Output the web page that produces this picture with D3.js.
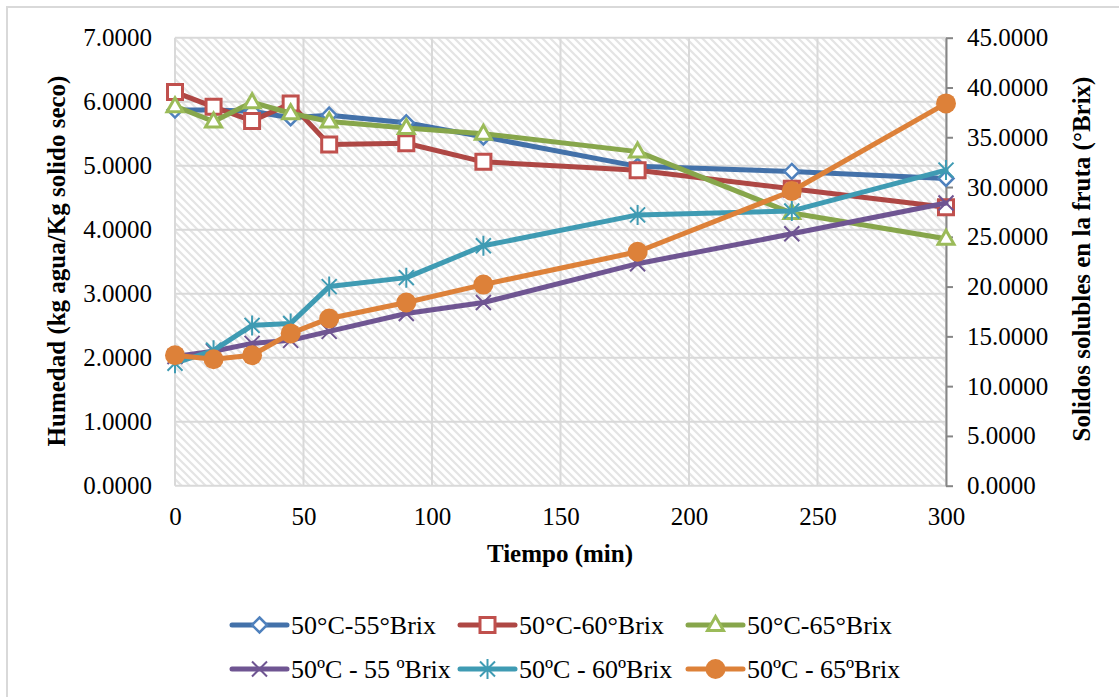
<!DOCTYPE html>
<html>
<head>
<meta charset="utf-8">
<script src="https://cdn.jsdelivr.net/npm/d3@7"></script>
<style>
  body { margin: 0; background: #fff; }
  text { font-family: "Liberation Serif", "Times New Roman", serif; fill: #000; }
</style>
</head>
<body>
<div id="svg_container"></div>
<script>
// Data ---------------------------------------------------------------------------------
var tiempo = [0, 15, 30, 45, 60, 90, 120, 180, 240, 300];
var hum55 = [5.87, 5.87, 5.85, 5.75, 5.79, 5.67, 5.45, 4.99, 4.91, 4.80];
var hum60 = [6.15, 5.92, 5.70, 5.97, 5.33, 5.35, 5.06, 4.93, 4.64, 4.35];
var hum65 = [5.93, 5.69, 5.99, 5.82, 5.69, 5.59, 5.50, 5.22, 4.26, 3.86];
var ss55 = [12.97, 13.5, 14.3, 14.6, 15.5, 17.3, 18.4, 22.3, 25.3, 28.4];
var ss60 = [12.3, 13.6, 16.1, 16.3, 20.0, 20.9, 24.1, 27.2, 27.6, 31.7];
var ss65 = [13.1, 12.7, 13.1, 15.3, 16.8, 18.4, 20.2, 23.5, 29.6, 38.4];
var xTicks = [0, 50, 100, 150, 200, 250, 300];
var yLeftTicks = [0, 1, 2, 3, 4, 5, 6, 7];
var yRightTicks = [0, 5, 10, 15, 20, 25, 30, 35, 40, 45];
var names = ["50°C-55°Brix", "50°C-60°Brix", "50°C-65°Brix",
             "50ºC - 55 ºBrix", "50ºC - 60ºBrix", "50ºC - 65ºBrix"];

// Marker shapes ------------------------------------------------------------------------
var shapes = {
  diamond: "M0,-7.5L7.5,0L0,7.5L-7.5,0Z",
  square: "M-7.5,-7.5H7.5V7.5H-7.5Z",
  triangle: "M0,-8.5L8,5.5H-8Z",
  x: "M-7.5,-7.5L7.5,7.5M-7.5,7.5L7.5,-7.5",
  star: "M-7.5,-7.5L7.5,7.5M-7.5,7.5L7.5,-7.5M0,-10V10",
  circle: null
};

var series = [
  {name: names[0], values: hum55, axis: "left", line: "#4371A9", mark: "#4F81BD", shape: "diamond", fill: "#fff", sw: 2.5},
  {name: names[1], values: hum60, axis: "left", line: "#AE4744", mark: "#C0504D", shape: "square", fill: "#fff", sw: 3},
  {name: names[2], values: hum65, axis: "left", line: "#87A64B", mark: "#9BBB59", shape: "triangle", fill: "#fff", sw: 3},
  {name: names[3], values: ss55, axis: "right", line: "#6F5592", mark: "#6F5592", shape: "x", fill: "none", sw: 2},
  {name: names[4], values: ss60, axis: "right", line: "#3F9BB3", mark: "#3F9BB3", shape: "star", fill: "none", sw: 2},
  {name: names[5], values: ss65, axis: "right", line: "#DD8139", mark: "#DD8139", shape: "circle", fill: "#DD8139", sw: 0}
];

var width = 1119, height = 697;
var svg = d3.select("#svg_container").append("svg")
  .attr("width", width)
  .attr("height", height);

// hatch for plot area
var defs = svg.append("defs");
var pat = defs.append("pattern")
  .attr("id", "hatch")
  .attr("patternUnits", "userSpaceOnUse")
  .attr("width", 8).attr("height", 8);
pat.append("rect").attr("width", 8).attr("height", 8).attr("fill", "#fff");
pat.append("path")
  .attr("d", "M0,0L8,8M-4,4L4,12M4,-4L12,4")
  .attr("stroke", "#E4E4E4")
  .attr("stroke-width", 2.2);

// outer chart border
svg.append("rect")
  .attr("x", 7).attr("y", 7)
  .attr("width", 1130).attr("height", 710)
  .attr("fill", "none")
  .attr("stroke", "#D9D9D9")
  .attr("stroke-width", 2);

var plot = {left: 175, right: 946, top: 37.7, bottom: 485.7};

var x = d3.scaleLinear().domain([0, 300]).range([plot.left, plot.right]);
var yL = d3.scaleLinear().domain([0, 7]).range([plot.bottom, plot.top]);
var yR = d3.scaleLinear().domain([0, 45]).range([plot.bottom, plot.top]);

svg.append("rect")
  .attr("x", plot.left).attr("y", plot.top)
  .attr("width", plot.right - plot.left)
  .attr("height", plot.bottom - plot.top)
  .attr("fill", "url(#hatch)");

// gridlines
svg.append("g").selectAll("line")
  .data(yLeftTicks)
  .enter().append("line")
    .attr("x1", plot.left).attr("x2", plot.right)
    .attr("y1", function(d) { return yL(d); })
    .attr("y2", function(d) { return yL(d); })
    .attr("stroke", "#D9D9D9").attr("stroke-width", 2);

svg.append("g").selectAll("line")
  .data(xTicks)
  .enter().append("line")
    .attr("x1", function(d) { return x(d); })
    .attr("x2", function(d) { return x(d); })
    .attr("y1", plot.top).attr("y2", plot.bottom)
    .attr("stroke", "#D9D9D9").attr("stroke-width", 2);

// left axis labels
svg.append("g")
  .attr("transform", "translate(" + (plot.left - 23) + ",0)")
  .call(d3.axisLeft(yL).tickValues(yLeftTicks).tickSize(0).tickPadding(0)
    .tickFormat(d3.format(".4f")))
  .call(function(g) { g.select(".domain").remove(); })
  .selectAll("text")
    .attr("font-size", "25px")
    .attr("font-family", "Liberation Serif")
    .attr("fill", "#000");

// right axis
var rAxis = svg.append("g")
  .attr("transform", "translate(" + plot.right + ",0)")
  .call(d3.axisRight(yR).tickValues(yRightTicks).tickSize(7).tickSizeOuter(0).tickPadding(14)
    .tickFormat(d3.format(".4f")));
rAxis.select(".domain").attr("stroke", "#868686").attr("stroke-width", 2);
rAxis.selectAll(".tick line").attr("stroke", "#868686").attr("stroke-width", 2);
rAxis.selectAll("text")
  .attr("font-size", "25px")
  .attr("font-family", "Liberation Serif")
  .attr("fill", "#000");

// bottom axis labels
svg.append("g")
  .attr("transform", "translate(0," + plot.bottom + ")")
  .call(d3.axisBottom(x).tickValues(xTicks).tickSize(0).tickPadding(22))
  .call(function(g) { g.select(".domain").remove(); })
  .selectAll("text")
    .attr("font-size", "25px")
    .attr("font-family", "Liberation Serif")
    .attr("fill", "#000");

// axis titles
svg.append("text")
  .attr("x", 560).attr("y", 562)
  .attr("text-anchor", "middle")
  .attr("font-size", "25px").attr("font-weight", "bold")
  .text("Tiempo (min)");

svg.append("text")
  .attr("transform", "translate(65,261) rotate(-90)")
  .attr("text-anchor", "middle")
  .attr("font-size", "25px").attr("font-weight", "bold")
  .text("Humedad (kg agua/Kg solido seco)");

svg.append("text")
  .attr("transform", "translate(1090,259) rotate(-90)")
  .attr("text-anchor", "middle")
  .attr("font-size", "25px").attr("font-weight", "bold")
  .text("Solidos solubles en la fruta (°Brix)");

// markers
function drawMarker(sel, s) {
  if (s.shape === "circle") {
    sel.append("circle").attr("r", 10).attr("fill", s.fill);
  } else {
    sel.append("path")
      .attr("d", shapes[s.shape])
      .attr("fill", s.fill)
      .attr("stroke", s.mark)
      .attr("stroke-width", s.sw)
      .attr("stroke-linejoin", "miter");
  }
}

// series
series.forEach(function(s) {
  var yScale = s.axis === "left" ? yL : yR;
  var line = d3.line()
    .x(function(d, i) { return x(tiempo[i]); })
    .y(function(d) { return yScale(d); });

  var g = svg.append("g");
  g.append("path")
    .datum(s.values)
    .attr("d", line)
    .attr("fill", "none")
    .attr("stroke", s.line)
    .attr("stroke-width", 5)
    .attr("stroke-linejoin", "round")
    .attr("stroke-linecap", "round");

  g.selectAll(".mk")
    .data(s.values)
    .enter().append("g")
      .attr("class", "mk")
      .attr("transform", function(d, i) {
        return "translate(" + x(tiempo[i]) + "," + yScale(d) + ")";
      })
      .each(function() { drawMarker(d3.select(this), s); });
});

// legend
var legX = [232, 460, 688];
var legY = [625, 669];
var leg = svg.append("g").selectAll("g")
  .data(series)
  .enter().append("g")
    .attr("transform", function(d, i) {
      return "translate(" + legX[i % 3] + "," + legY[Math.floor(i / 3)] + ")";
    });

leg.append("line")
  .attr("x1", 0).attr("x2", 55)
  .attr("stroke", function(d) { return d.line; })
  .attr("stroke-width", 5)
  .attr("stroke-linecap", "round");

leg.append("g")
  .attr("transform", "translate(27.5,0)")
  .each(function(d) { drawMarker(d3.select(this), d); });

leg.append("text")
  .attr("x", 59).attr("y", 9)
  .attr("font-size", "26px")
  .text(function(d) { return d.name; });
</script>
</body>
</html>
